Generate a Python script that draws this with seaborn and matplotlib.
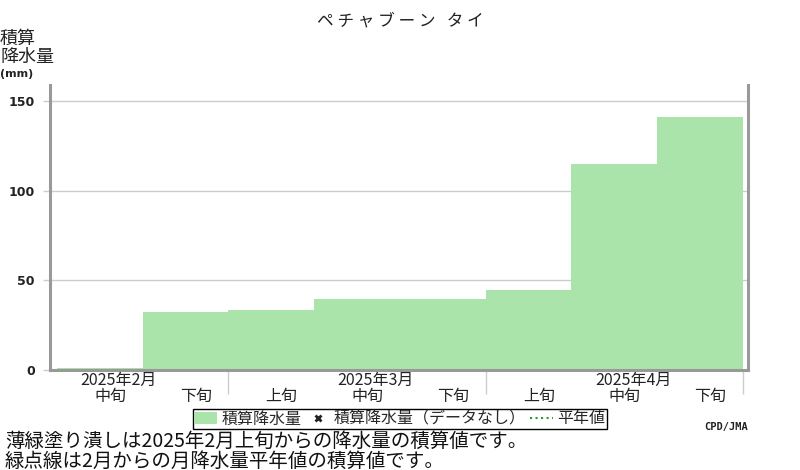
import matplotlib
matplotlib.use('Agg')
import matplotlib.pyplot as plt
import matplotlib.transforms as mtransforms
from matplotlib.patches import Patch
from matplotlib.lines import Line2D
import seaborn as sns

# data (accumulated precipitation, mm)
dekads = ['中旬', '下旬', '上旬', '中旬', '下旬', '上旬', '中旬', '下旬']
precip = [1.0, 32.3, 33.5, 39.6, 39.6, 44.6, 115.0, 141.2]
months = ['2025年2月', '2025年3月', '2025年4月']
month_pos = [0, 3, 6]
month_bounds = [1.5, 4.5, 7.5]
yticks = [0, 50, 100, 150]

green = '#abe4aa'
gray = '#999999'
grid_gray = '#cccccc'

sns.set_theme(style='white')
plt.rcParams['font.family'] = ['Noto Sans CJK JP', 'DejaVu Sans']

fig = plt.figure(figsize=(8, 4.7), dpi=100)
ax = fig.add_axes([50 / 800, 100 / 470, 698 / 800, 285 / 470])

sns.barplot(x=list(range(len(precip))), y=precip, width=1, color=green,
            saturation=1, errorbar=None, edgecolor='none', linewidth=0, ax=ax)

ax.set_xlim(-0.58, 7.56)
ax.set_ylim(0, 159)
ax.set_xlabel('')
ax.set_ylabel('')

# y axis
ax.set_yticks(yticks)
ax.set_yticklabels([str(v) for v in yticks], fontsize=9, fontweight='bold',
                   color='#222222', family='DejaVu Sans')
ax.yaxis.grid(True, color=grid_gray, linewidth=1)
ax.set_axisbelow(True)
ax.tick_params(axis='y', which='major', length=5, color=grid_gray, width=1,
               direction='out', left=True, pad=6)

# x axis: month boundary ticks, labels drawn as text
ax.set_xticks(month_bounds)
ax.set_xticklabels([''] * len(month_bounds))
ax.tick_params(axis='x', which='major', length=17, color=grid_gray, width=1,
               direction='out', bottom=True)

trans = mtransforms.blended_transform_factory(ax.transData, ax.transAxes)
for i, lab in enumerate(dekads):
    ax.text(i + 0.12, -0.093, lab, transform=trans, ha='center', va='center',
            fontsize=11.5, color='#222222')
for m, p in zip(months, month_pos):
    ax.text(p + 0.22, -0.037, m, transform=trans, ha='center', va='center',
            fontsize=11.5, color='#222222')

for side in ['left', 'bottom', 'right']:
    ax.spines[side].set_color(gray)
    ax.spines[side].set_linewidth(2.2)
ax.spines['top'].set_visible(False)

# title and labels
fig.text(0.5, 1 - 21 / 470, 'ペ チ ャ ブ ー ン   タ イ', ha='center', va='center',
         fontsize=12, color='#222222')
fig.text(0.0, 1 - 39 / 470, '積算', ha='left', va='center', fontsize=13, color='#222222')
fig.text(0.0, 1 - 57 / 470, '降水量', ha='left', va='center', fontsize=13, color='#222222')
fig.text(0.0, 1 - 74 / 470, '(mm)', ha='left', va='center', fontsize=8,
         fontweight='bold', color='#222222', family='DejaVu Sans')

# legend
handles = [
    Patch(facecolor=green, edgecolor='none'),
    Line2D([], [], marker='x', color='#222222', linestyle='none', markersize=5, mew=2),
    Line2D([], [], color='#2a9a2a', linestyle=':', linewidth=1.5),
]
labels = ['積算降水量', '積算降水量（データなし）', '平年値']
fig.legend(handles, labels, loc='center', bbox_to_anchor=(0.5, 1 - 419 / 470),
           ncol=3, fontsize=11.5, frameon=True, fancybox=False, edgecolor='black',
           framealpha=1, borderpad=0.1, handlelength=1.4, handletextpad=0.3,
           columnspacing=0.3, borderaxespad=0)

fig.text(748 / 800, 1 - 427 / 470, 'CPD/JMA', ha='right', va='center',
         fontsize=7.5, fontweight='bold', color='#222222', family='DejaVu Sans Mono')

# footnotes
fig.text(5 / 800, 1 - 441 / 470, '薄緑塗り潰しは2025年2月上旬からの降水量の積算値です。',
         ha='left', va='center', fontsize=14, color='#111111')
fig.text(5 / 800, 1 - 461 / 470, '緑点線は2月からの月降水量平年値の積算値です。',
         ha='left', va='center', fontsize=14, color='#111111')

fig.savefig('out.png', dpi=100)
